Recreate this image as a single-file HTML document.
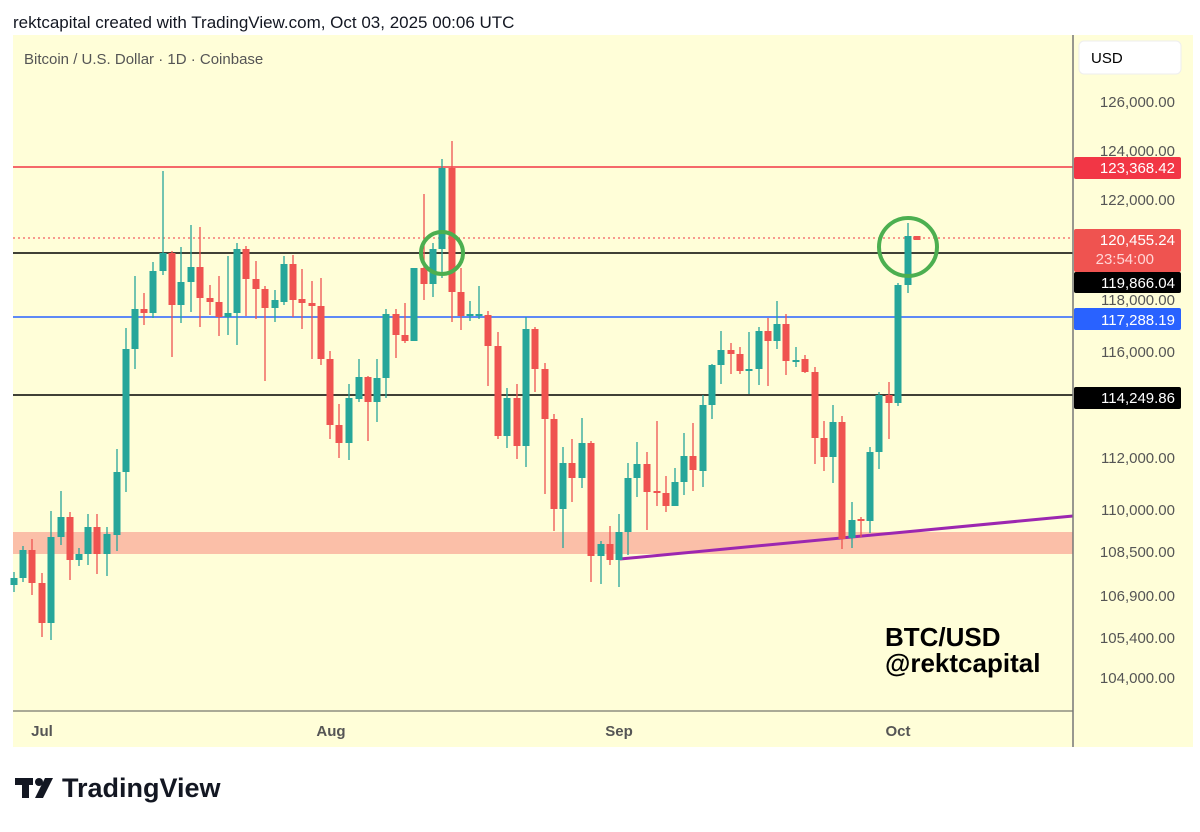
<!DOCTYPE html>
<html><head><meta charset="utf-8"><style>
body{margin:0;background:#fff;width:1200px;height:827px;overflow:hidden;font-family:"Liberation Sans",Arial,sans-serif}
</style></head><body>
<svg width="1200" height="827" xmlns="http://www.w3.org/2000/svg" font-family="Liberation Sans, Arial, sans-serif">
<text x="13" y="28" font-size="17" fill="#131722">rektcapital created with TradingView.com, Oct 03, 2025 00:06 UTC</text>
<rect x="13" y="35" width="1180" height="712" fill="#fffed8"/>
<text x="24" y="64" font-size="15" fill="#555">Bitcoin / U.S. Dollar · 1D · Coinbase</text>
<rect x="13" y="532" width="1060" height="22" fill="#fbbfa8"/>
<line x1="13" y1="167" x2="1073" y2="167" stroke="#f23645" stroke-width="1.5"/>
<line x1="13" y1="238" x2="1073" y2="238" stroke="#f23645" stroke-width="1" stroke-dasharray="2,3"/>
<line x1="13" y1="253" x2="1073" y2="253" stroke="#000" stroke-width="1.5"/>
<line x1="13" y1="317" x2="1073" y2="317" stroke="#2962ff" stroke-width="1.5"/>
<line x1="13" y1="395" x2="1073" y2="395" stroke="#000" stroke-width="1.5"/>
<line x1="620" y1="559" x2="1073" y2="516" stroke="#9c27b0" stroke-width="3"/>
<g id="c"></g>
<circle cx="442" cy="253" r="21" fill="none" stroke="#4caf50" stroke-width="4"/>
<circle cx="908" cy="247" r="29" fill="none" stroke="#4caf50" stroke-width="4"/>
<text x="885" y="646" font-size="26" font-weight="bold" fill="#000">BTC/USD</text>
<text x="885" y="672" font-size="26" font-weight="bold" fill="#000">@rektcapital</text>
<line x1="13" y1="711" x2="1073" y2="711" stroke="#555" stroke-width="1"/>
<line x1="1073" y1="35" x2="1073" y2="747" stroke="#777" stroke-width="1.5"/>
<g font-size="15" font-weight="bold" fill="#555" text-anchor="middle">
<text x="42" y="736">Jul</text><text x="331" y="736">Aug</text><text x="619" y="736">Sep</text><text x="898" y="736">Oct</text></g>
<rect x="1079" y="41" width="102" height="33" rx="5" fill="#fff" stroke="#eee"/>
<text x="1091" y="63" font-size="15" fill="#000">USD</text>
<g font-size="15" fill="#555" text-anchor="end">
<text x="1175" y="107">126,000.00</text><text x="1175" y="156">124,000.00</text><text x="1175" y="205">122,000.00</text>
<text x="1175" y="305">118,000.00</text><text x="1175" y="357">116,000.00</text><text x="1175" y="463">112,000.00</text>
<text x="1175" y="515">110,000.00</text><text x="1175" y="557">108,500.00</text><text x="1175" y="601">106,900.00</text>
<text x="1175" y="643">105,400.00</text><text x="1175" y="683">104,000.00</text></g>
<rect x="1074" y="157" width="107" height="22" rx="2" fill="#f23645"/>
<rect x="1074" y="229" width="107" height="43" rx="2" fill="#ef5350"/>
<rect x="1074" y="272" width="107" height="21" rx="2" fill="#000"/>
<rect x="1074" y="308" width="107" height="22" rx="2" fill="#2962ff"/>
<rect x="1074" y="387" width="107" height="22" rx="2" fill="#000"/>
<g font-size="15" fill="#fff" text-anchor="end">
<text x="1175" y="173">123,368.42</text><text x="1175" y="245">120,455.24</text>
<text x="1154" y="264" fill="#ffd6d6">23:54:00</text><text x="1175" y="288">119,866.04</text>
<text x="1175" y="325">117,288.19</text><text x="1175" y="403">114,249.86</text></g>
<rect x="15" y="778" width="18" height="7" fill="#131722"/><rect x="22" y="778" width="7" height="20" fill="#131722"/>
<circle cx="39" cy="782" r="4" fill="#131722"/><polygon points="45,778 53,778 43,798 35,798" fill="#131722"/>
<text x="62" y="797" font-size="27" font-weight="bold" fill="#131722">TradingView</text>
</svg>
<script>
var d=[[14,578,585,572,592,1],[23,550,578,546,582,1],[32,550,583,539,595,0],[42,583,623,573,637,0],[51,537,623,511,640,1],[61,517,537,491,545,1],[70,517,560,512,580,0],[79,554,560,548,566,1],[88,527,554,514,565,1],[97,527,554,514,574,0],[107,534,554,527,576,1],[117,472,535,449,551,1],[126,349,472,328,492,1],[135,309,349,276,369,1],[144,309,313,293,325,0],[153,271,313,262,318,1],[163,253,271,171,275,1],[172,253,305,251,357,0],[181,282,305,247,323,1],[191,267,282,225,312,1],[200,267,298,227,327,0],[210,298,302,285,315,0],[219,302,317,276,336,0],[228,313,317,256,335,1],[237,249,313,243,345,1],[246,249,279,246,316,0],[256,279,289,261,319,0],[265,289,308,286,381,0],[275,300,308,290,322,1],[284,264,302,256,305,1],[293,264,300,255,317,0],[302,299,303,269,329,0],[312,303,306,281,359,0],[321,306,359,278,365,0],[330,359,425,351,439,0],[339,425,443,404,458,0],[349,398,443,384,460,1],[359,377,399,359,402,1],[368,377,402,376,441,0],[377,378,402,359,422,1],[386,314,378,309,398,1],[396,314,335,309,358,0],[405,335,341,303,343,0],[414,268,341,268,341,1],[424,268,284,194,300,0],[433,249,284,243,297,1],[442,168,249,159,278,1],[452,168,292,141,322,0],[461,292,316,268,330,0],[470,314,315,301,321,1],[479,314,315,286,319,1],[488,315,346,311,386,0],[498,346,436,332,439,0],[507,398,436,388,448,1],[517,398,446,384,459,0],[526,329,446,317,467,1],[535,329,369,327,392,0],[545,369,419,363,494,0],[554,419,509,414,531,0],[563,463,509,447,548,1],[572,463,478,439,502,0],[582,443,478,418,488,1],[591,443,556,441,582,0],[601,544,556,541,584,1],[610,544,560,526,565,0],[619,532,560,514,587,1],[628,478,532,463,555,1],[637,464,478,442,497,1],[647,464,492,452,530,0],[657,491,492,421,506,0],[666,493,506,476,512,0],[675,482,506,468,506,1],[684,456,482,433,495,1],[693,456,470,423,491,0],[703,405,471,395,487,1],[712,365,405,364,419,1],[721,350,365,331,384,1],[731,350,354,343,374,0],[740,354,371,347,374,0],[749,369,371,332,394,1],[759,331,369,327,385,1],[768,331,341,318,386,0],[777,324,341,301,349,1],[786,324,361,314,375,0],[796,360,361,347,367,1],[805,359,372,355,373,0],[815,372,438,367,464,0],[824,438,457,421,471,0],[833,422,457,405,483,1],[842,422,539,416,549,0],[852,520,538,502,548,1],[861,519,520,517,537,0],[870,452,521,447,533,1],[879,395,452,392,469,1],[889,395,403,382,439,0],[898,285,403,283,406,1],[908,236,285,223,293,1],[917,236,240,236,240,0]];
var s='';d.forEach(function(c){var col=c[5]?'#26a69a':'#ef5350';var h=Math.max(c[2]-c[1],2);
s+='<line x1="'+c[0]+'" y1="'+c[3]+'" x2="'+c[0]+'" y2="'+c[4]+'" stroke="'+col+'" stroke-width="1.3"/>';
s+='<rect x="'+(c[0]-3.5)+'" y="'+c[1]+'" width="7" height="'+h+'" fill="'+col+'"/>';});
document.getElementById('c').innerHTML=s;
</script>
</body></html>
